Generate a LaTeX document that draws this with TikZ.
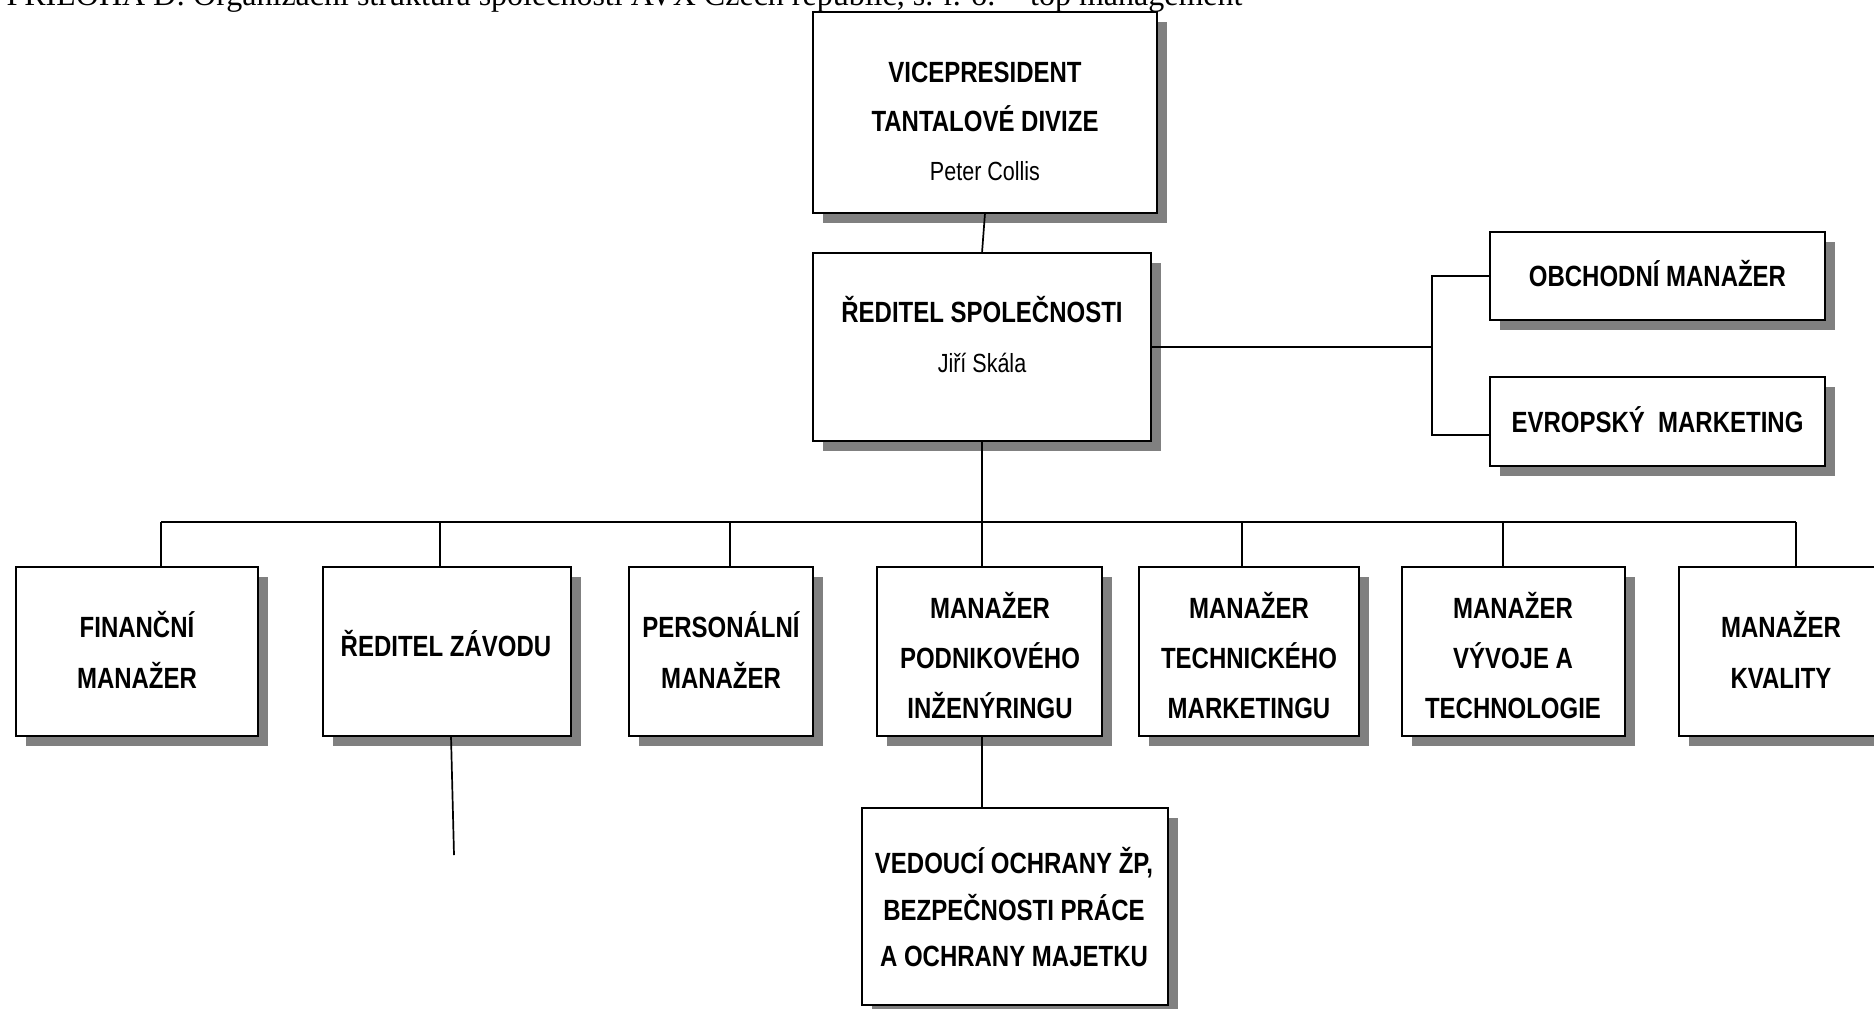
\documentclass[tikz,border=0pt]{standalone}
\usepackage{fontspec}
\setmainfont{Liberation Serif}
\newfontfamily\narrowsans[FakeStretch=0.82]{Liberation Sans}
\usetikzlibrary{shadows,calc}
\definecolor{shade}{RGB}{128,128,128}
\begin{document}
\begin{tikzpicture}[x=0.4pt,y=-0.4pt,
  box/.style={draw=black, line width=0.92pt, fill=white, inner sep=0pt, outer sep=0pt,
    drop shadow={shadow xshift=4pt, shadow yshift=-4pt, fill=shade, opacity=1}},
  post/.style={font={\narrowsans\bfseries\fontsize{11.7pt}{14pt}\selectfont}, inner sep=0pt, anchor=base},
  person/.style={font={\narrowsans\fontsize{10.5pt}{13pt}\selectfont}, inner sep=0pt, anchor=base},
  caption/.style={font={\fontsize{12.8pt}{15pt}\selectfont}, inner sep=0pt},
  link/.style={draw=black, line width=0.68pt}]
\useasboundingbox (0,0) rectangle (1874,1008);
\clip (0,0) rectangle (1874,1008);

% heading
\node[caption, anchor=base east] (heading) at (1243,5)
  {PŘÍLOHA D: Organizační struktura společnosti AVX Czech republic, s. r. o. – top management};

% boxes
\node[box, minimum width=137.6pt, minimum height=80.4pt] (vp)   at (985,112.5) {};
\node[box, minimum width=135.2pt, minimum height=75.2pt] (red)  at (982,347) {};
\node[box, minimum width=134pt,   minimum height=35.2pt] (obch) at (1657.5,276) {};
\node[box, minimum width=134pt,   minimum height=35.6pt] (evr)  at (1657.5,421.5) {};
\node[box, minimum width=96.8pt,  minimum height=67.6pt] (b1) at (137,651.5) {};
\node[box, minimum width=99.2pt,  minimum height=67.6pt] (b2) at (447,651.5) {};
\node[box, minimum width=73.6pt,  minimum height=67.6pt] (b3) at (721,651.5) {};
\node[box, minimum width=90pt,    minimum height=67.6pt] (b4) at (989.5,651.5) {};
\node[box, minimum width=88pt,    minimum height=67.6pt] (b5) at (1249,651.5) {};
\node[box, minimum width=89.2pt,  minimum height=67.6pt] (b6) at (1513.5,651.5) {};
\node[box, minimum width=82.4pt,  minimum height=67.6pt] (b7) at (1782,651.5) {};
\node[box, minimum width=122.4pt, minimum height=78.8pt] (ved) at (1015,906.5) {};

% box texts
\node[post]   (vp-a) at (985,82)  {VICEPRESIDENT};
\node[post]   (vp-b) at (985,131) {TANTALOVÉ DIVIZE};
\node[person] (vp-c) at (985,180) {Peter Collis};
\node[post]   (red-a) at (982,322) {ŘEDITEL SPOLEČNOSTI};
\node[person] (red-b) at (982,372) {Jiří Skála};
\node[post] (obch-a) at (1657.5,286) {OBCHODNÍ MANAŽER};
\node[post] (evr-a)  at (1657.5,432) {EVROPSKÝ\ \ MARKETING};
\node[post] (b1-a) at (137,637) {FINANČNÍ};
\node[post] (b1-b) at (137,688) {MANAŽER};
\node[post] (b2-a) at (446,656) {ŘEDITEL ZÁVODU};
\node[post] (b3-a) at (721,637) {PERSONÁLNÍ};
\node[post] (b3-b) at (721,688) {MANAŽER};
\node[post] (b4-a) at (990,618) {MANAŽER};
\node[post] (b4-b) at (990,668) {PODNIKOVÉHO};
\node[post] (b4-c) at (990,718) {INŽENÝRINGU};
\node[post] (b5-a) at (1249,618) {MANAŽER};
\node[post] (b5-b) at (1249,668) {TECHNICKÉHO};
\node[post] (b5-c) at (1249,718) {MARKETINGU};
\node[post] (b6-a) at (1513,618) {MANAŽER};
\node[post] (b6-b) at (1513,668) {VÝVOJE A};
\node[post] (b6-c) at (1513,718) {TECHNOLOGIE};
\node[post] (b7-a) at (1781,637) {MANAŽER};
\node[post] (b7-b) at (1781,688) {KVALITY};
\node[post] (ved-a) at (1014,873) {VEDOUCÍ OCHRANY ŽP,};
\node[post] (ved-b) at (1014,920) {BEZPEČNOSTI PRÁCE};
\node[post] (ved-c) at (1014,966) {A OCHRANY MAJETKU};

% connectors
\draw[link] (vp.south) -- (red.north);

\coordinate (forkx) at (1432,347);
\coordinate (evr-in) at ($(evr.west)+(0,13.5)$);
\draw[link] (red.east) -- (forkx);
\draw[link] (obch.west) -| (forkx) |- (evr-in);

\coordinate (bus-w) at (161,522);
\coordinate (bus-e) at (1796,522);
\coordinate (t2) at (440,522);
\coordinate (t3) at (730,522);
\coordinate (t5) at (1242,522);
\coordinate (t6) at (1503,522);
\draw[link] (bus-w) -- (bus-e);
\draw[link] (bus-w) -- (bus-w |- b1.north);
\draw[link] (t2) -- (t2 |- b2.north);
\draw[link] (t3) -- (t3 |- b3.north);
\draw[link] (t5) -- (t5 |- b5.north);
\draw[link] (t6) -- (t6 |- b6.north);
\draw[link] (bus-e) -- (bus-e |- b7.north);
\draw[link] (red.south) -- (red.south |- b4.north);
\draw[link] (red.south |- b4.south) -- (red.south |- ved.north);

\coordinate (rz-end) at (454,855);
\draw[link] ($(b2.south)+(4,0)$) -- (rz-end);
\end{tikzpicture}
\end{document}
